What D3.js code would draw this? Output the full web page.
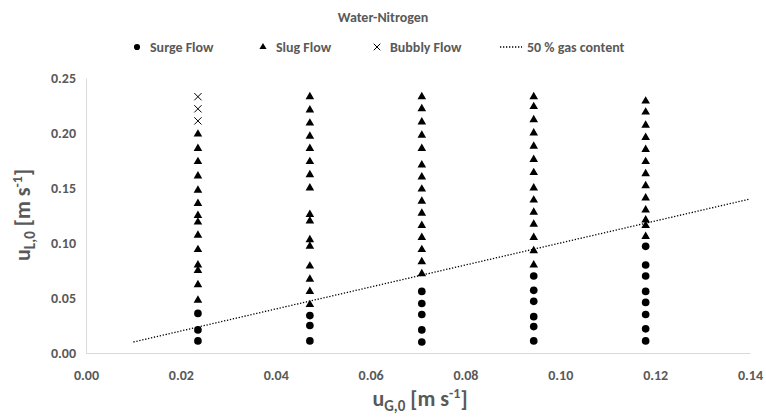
<!DOCTYPE html>
<html lang="en">
<head>
<meta charset="UTF-8">
<title>Water-Nitrogen</title>
<script src="https://d3js.org/d3.v7.min.js"></script>
<style>
  body { margin: 0; background: #fff; }
  text { font-family: Carlito, "Liberation Sans Narrow", Lato, sans-serif; font-weight: bold; fill: #595959; }
  .domain { stroke: #d9d9d9; }
</style>
</head>
<body>
<svg width="766" height="419"></svg>
<script>
// x positions (superficial gas velocity) of the five measurement columns
let uG = [0.0236, 0.0472, 0.0708, 0.0944, 0.118];

// liquid velocities per column, by flow regime
let surgeY = [
  [0.036, 0.021, 0.011],
  [0.034, 0.025, 0.011],
  [0.056, 0.045, 0.035, 0.021, 0.010],
  [0.070, 0.057, 0.047, 0.033, 0.024, 0.011],
  [0.097, 0.080, 0.070, 0.056, 0.046, 0.035, 0.022, 0.011]
];
let slugY = [
  [0.199, 0.186, 0.174, 0.161, 0.148, 0.136, 0.125, 0.119, 0.107, 0.094, 0.080, 0.075, 0.062, 0.048],
  [0.233, 0.221, 0.209, 0.197, 0.186, 0.174, 0.162, 0.150, 0.126, 0.120, 0.103, 0.097, 0.079, 0.067, 0.056, 0.044],
  [0.233, 0.222, 0.210, 0.198, 0.186, 0.171, 0.160, 0.149, 0.138, 0.127, 0.116, 0.105, 0.094, 0.083, 0.072],
  [0.233, 0.224, 0.212, 0.200, 0.188, 0.176, 0.164, 0.150, 0.139, 0.128, 0.117, 0.105, 0.093, 0.080],
  [0.229, 0.219, 0.207, 0.196, 0.185, 0.174, 0.163, 0.152, 0.141, 0.130, 0.121, 0.116, 0.106]
];
let bubblyY = [
  [0.233, 0.222, 0.211], [], [], [], []
];
// 50 % gas content line: uL = uG
let lineX = [0.01, 0.14];

let xTicks = [0, 0.02, 0.04, 0.06, 0.08, 0.10, 0.12, 0.14];
let yTicks = [0, 0.05, 0.10, 0.15, 0.20, 0.25];
let legendLabels = ['Surge Flow', 'Slug Flow', 'Bubbly Flow', '50 % gas content'];

function toPoints(cols) {
  let pts = [];
  cols.forEach(function (ys, i) { ys.forEach(function (y) { pts.push({x: uG[i], y: y}); }); });
  return pts;
}

let svg = d3.select('svg');
let plot = {left: 86, right: 750, top: 78, bottom: 353};
let xScale = d3.scaleLinear().domain([0, 0.14]).range([plot.left, plot.right]);
let yScale = d3.scaleLinear().domain([0, 0.25]).range([plot.bottom, plot.top]);

// axes
svg.append('g')
  .attr('transform', 'translate(0,' + plot.bottom + ')')
  .call(d3.axisBottom(xScale).tickValues(xTicks).tickFormat(d3.format('.2f')).tickSize(0).tickPadding(17));
svg.append('g')
  .attr('transform', 'translate(' + plot.left + ',0)')
  .call(d3.axisLeft(yScale).tickValues(yTicks).tickFormat(d3.format('.2f')).tickSize(0).tickPadding(10));
svg.selectAll('.tick text').style('font-size', '14px').attr('fill', '#595959')
  .style('font-family', 'Carlito, "Liberation Sans Narrow", Lato, sans-serif');

// 50 % line
let line = d3.line().x(function (d) { return xScale(d); }).y(function (d) { return yScale(d); });
svg.append('path').datum(lineX).attr('d', line)
  .attr('fill', 'none').attr('stroke', '#000').attr('stroke-width', 1.3).attr('stroke-dasharray', '1.3,1.7');

let circle = d3.symbol().type(d3.symbolCircle).size(46);
let tri = d3.symbol().type(d3.symbolTriangle).size(32);
let cross = d3.symbol().type(d3.symbolX).size(36);

svg.append('g').selectAll('path').data(toPoints(surgeY)).join('path')
  .attr('d', circle).attr('fill', '#000')
  .attr('transform', function (d) { return 'translate(' + xScale(d.x) + ',' + yScale(d.y) + ')'; });
svg.append('g').selectAll('path').data(toPoints(slugY)).join('path')
  .attr('d', tri).attr('fill', '#000')
  .attr('transform', function (d) { return 'translate(' + xScale(d.x) + ',' + yScale(d.y) + ')'; });
svg.append('g').selectAll('path').data(toPoints(bubblyY)).join('path')
  .attr('d', cross).attr('fill', 'none').attr('stroke', '#000').attr('stroke-width', 1)
  .attr('transform', function (d) { return 'translate(' + xScale(d.x) + ',' + yScale(d.y) + ')'; });

// title
svg.append('text').attr('x', 383).attr('y', 22).attr('text-anchor', 'middle')
  .style('font-size', '14px').text('Water-Nitrogen');

// legend
let legend = svg.append('g').attr('transform', 'translate(0,47)');
let lx = [137, 263, 377, 500];
legend.append('path').attr('d', d3.symbol().type(d3.symbolCircle).size(30)).attr('transform', 'translate(' + lx[0] + ',0)');
legend.append('path').attr('d', d3.symbol().type(d3.symbolTriangle).size(22)).attr('transform', 'translate(' + lx[1] + ',0)');
legend.append('path').attr('d', d3.symbol().type(d3.symbolX).size(30)).attr('fill', 'none').attr('stroke', '#000')
  .attr('transform', 'translate(' + lx[2] + ',0)');
legend.append('line').attr('x1', lx[3]).attr('x2', lx[3] + 22).attr('y1', 0).attr('y2', 0)
  .attr('stroke', '#000').attr('stroke-width', 1.3).attr('stroke-dasharray', '1.3,1.7');
legendLabels.forEach(function (t, i) {
  legend.append('text').attr('x', lx[i] + (i == 3 ? 27 : 13)).attr('y', 5)
    .style('font-size', '14px').text(t);
});

// axis titles
let xt = svg.append('text').attr('x', 420).attr('y', 406).attr('text-anchor', 'middle').style('font-size', '22px');
xt.append('tspan').text('u');
xt.append('tspan').attr('dy', 5).style('font-size', '15px').text('G,0');
xt.append('tspan').attr('dy', -5).text(' [m s');
xt.append('tspan').attr('dy', -8).style('font-size', '14px').text('-1');
xt.append('tspan').attr('dy', 8).text(']');

let yt = svg.append('text').attr('transform', 'translate(30,' + 215 + ') rotate(-90)')
  .attr('text-anchor', 'middle').style('font-size', '22px');
yt.append('tspan').text('u');
yt.append('tspan').attr('dy', 5).style('font-size', '15px').text('L,0');
yt.append('tspan').attr('dy', -5).text(' [m s');
yt.append('tspan').attr('dy', -8).style('font-size', '14px').text('-1');
yt.append('tspan').attr('dy', 8).text(']');
</script>
</body>
</html>
